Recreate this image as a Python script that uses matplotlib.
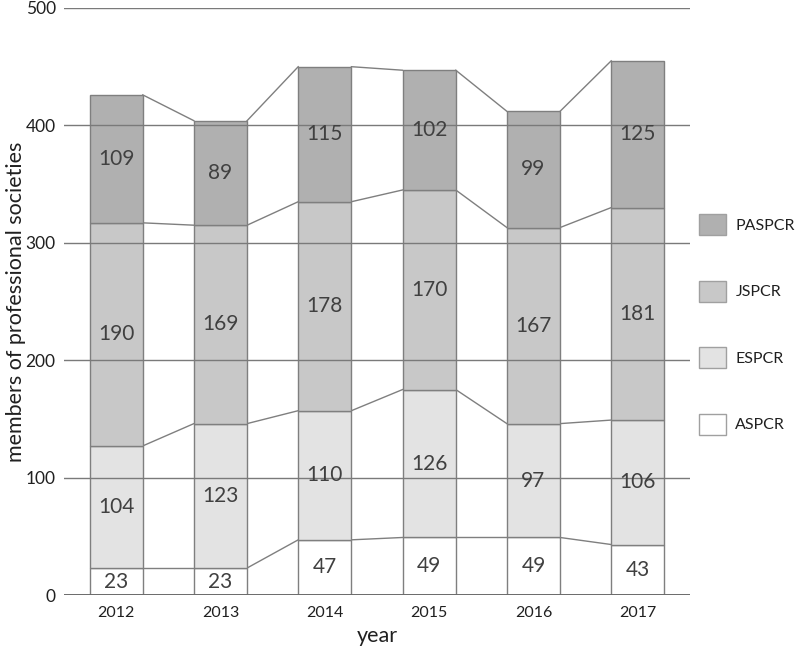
import matplotlib
matplotlib.use("Agg")
import matplotlib.pyplot as plt
from matplotlib.patches import Patch
import numpy as np

plt.rcParams['font.family'] = ['Lato', 'DejaVu Sans']

years = ["2012", "2013", "2014", "2015", "2016", "2017"]
aspcr = [23, 23, 47, 49, 49, 43]
espcr = [104, 123, 110, 126, 97, 106]
jspcr = [190, 169, 178, 170, 167, 181]
paspcr = [109, 89, 115, 102, 99, 125]

series = [("ASPCR", aspcr, "#ffffff"),
          ("ESPCR", espcr, "#e3e3e3"),
          ("JSPCR", jspcr, "#c8c8c8"),
          ("PASPCR", paspcr, "#b0b0b0")]

fig = plt.figure(figsize=(7.97, 6.5), dpi=100)
ax = fig.add_axes([0.0803, 0.0846, 0.7854, 0.9031])

x = np.arange(len(years))
w = 0.51
edge = "#7f7f7f"
txt = "#404040"
bottom = np.zeros(len(years))
for name, vals, col in series:
    vals = np.array(vals, dtype=float)
    ax.bar(x, vals, w, bottom=bottom, color=col, edgecolor=edge, linewidth=1.0, zorder=2)
    for i in range(len(years)):
        ax.text(x[i], bottom[i] + vals[i] / 2, str(int(vals[i])), ha='center', va='center',
                fontsize=15, color=txt, zorder=5)
    top = bottom + vals
    for i in range(len(years) - 1):
        ax.plot([x[i] + w / 2, x[i + 1] - w / 2], [top[i], top[i + 1]], color=edge, lw=1.0, zorder=2)
    bottom = top

for yv in [100, 200, 300, 400, 500]:
    ax.axhline(yv, color="#7a7a7a", lw=1.0, zorder=3)
ax.axhline(0, color="#6a6a6a", lw=1.4, zorder=3)

ax.set_xlim(-0.5, len(years) - 0.5)
ax.set_ylim(0, 500)
ax.set_xticks(x)
ax.set_xticklabels(years, fontsize=11.5, color="#202020")
ax.set_yticks([0, 100, 200, 300, 400, 500])
ax.set_yticklabels(["0", "100", "200", "300", "400", "500"], fontsize=12.5, color="#202020")
ax.tick_params(length=0, pad=6)
ax.tick_params(axis='x', pad=8)
for s in ax.spines.values():
    s.set_visible(False)
ax.set_xlabel("year", fontsize=15.5, color="#202020", labelpad=4)
ax.set_ylabel("members of professional societies", fontsize=15.5, color="#202020", labelpad=0)

handles = [Patch(facecolor=c, edgecolor="#a0a0a0", label=n) for n, v, c in series[::-1]]
leg = ax.legend(handles=handles, loc='upper left', bbox_to_anchor=(1.005, 0.66),
                frameon=False, fontsize=11.5, handlelength=1.65, handleheight=1.65,
                labelspacing=2.85, handletextpad=0.6, borderaxespad=0)
for t in leg.get_texts():
    t.set_color("#202020")

fig.savefig("out.png", dpi=100)
